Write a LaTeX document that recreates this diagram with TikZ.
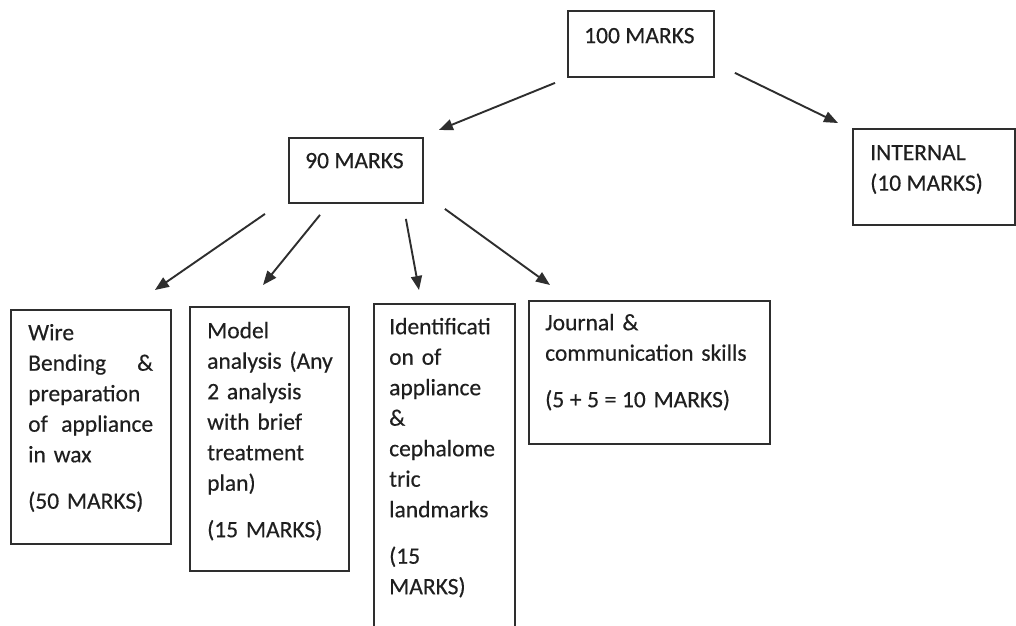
\documentclass[tikz,border=0pt]{standalone}
\usepackage{fontspec}
\setmainfont{Carlito}[FakeBold=0.35]
\usetikzlibrary{arrows.meta}
\newcommand\labfont{\fontsize{23.5}{30.5}\selectfont}
\newcommand\firstline{\rule{0pt}{20pt}}
\newcommand\gapsp{\hspace{5.6pt}}
\tikzset{
  box/.style={draw=black!82, line width=1.9pt, anchor=north west, inner sep=0pt},
  lab/.style={anchor=north west, inner sep=0pt, align=left, font=\labfont, text=black!88},
  arr/.style={draw=black!82, line width=1.9pt, -{Triangle[length=14pt,width=11pt]}}
}
\begin{document}
\begin{tikzpicture}[x=1pt,y=-1pt]
\useasboundingbox (0,0) rectangle (1016,625);
\clip (0,0) rectangle (1016,625);
\fill[white] (0,0) rectangle (1016,625);

% boxes
\node[box, minimum width=146, minimum height=66]  (top)   at (567,10)  {};
\node[box, minimum width=162, minimum height=96]  (int)   at (852,128) {};
\node[box, minimum width=134, minimum height=65]  (ninety) at (288,137) {};
\node[box, minimum width=160, minimum height=234] (wire)  at (10,309)  {};
\node[box, minimum width=159, minimum height=264] (model) at (189,306) {};
\node[box, minimum width=141, minimum height=340] (ident) at (373,303) {};
\node[box, minimum width=241, minimum height=143] (journ) at (528,300) {};

% texts
\node[lab] (ttop) at ([shift={(17,13)}]top.north west) {\firstline 100 MARKS};
\node[lab] (tint) at ([shift={(18,12)}]int.north west) {\firstline INTERNAL\\(10 MARKS)};
\node[lab] (tninety) at ([shift={(17,11)}]ninety.north west) {\firstline 90 MARKS};
\node[lab, text width=125] (twire) at ([shift={(18,11)}]wire.north west)
  {\firstline Wire\\Bending\hfill\&\\preparation\\of\hfill appliance\\in wax\\[16pt](50 MARKS)};
\node[lab, text width=135] (tmodel) at ([shift={(18,12)}]model.north west)
  {\firstline Model\\analysis (Any\\2 analysis\\with brief\\treatment\\plan)\\[16pt](15 MARKS)};
\node[lab, text width=120] (tident) at ([shift={(16,11)}]ident.north west)
  {\firstline Identificati\\on of\\appliance\\\&\\cephalome\\tric\\landmarks\\[16pt](15\\MARKS)};
\node[lab, text width=215] (tjourn) at ([shift={(17,10)}]journ.north west)
  {\firstline Journal \&\\communication skills\\[16pt](5\gapsp+\gapsp5\gapsp=\gapsp10 MARKS)};

% connectors
\draw[arr] ([shift={(-12,5)}]top.south west) -- ([shift={(15,-7)}]ninety.north east);
\draw[arr] ([shift={(20,-5)}]top.south east) -- ([shift={(-14,-5)}]int.north west);
\draw[arr] ([shift={(-23,10)}]ninety.south west) -- ([shift={(-17,-19)}]wire.north east);
\draw[arr] ([shift={(32,11)}]ninety.south west) -- ([shift={(74,-21)}]model.north west);
\draw[arr] ([shift={(-18,15)}]ninety.south east) -- ([shift={(46,-13)}]ident.north west);
\draw[arr] ([shift={(21,5)}]ninety.south east) -- ([shift={(22,-15)}]journ.north west);
\end{tikzpicture}
\end{document}
